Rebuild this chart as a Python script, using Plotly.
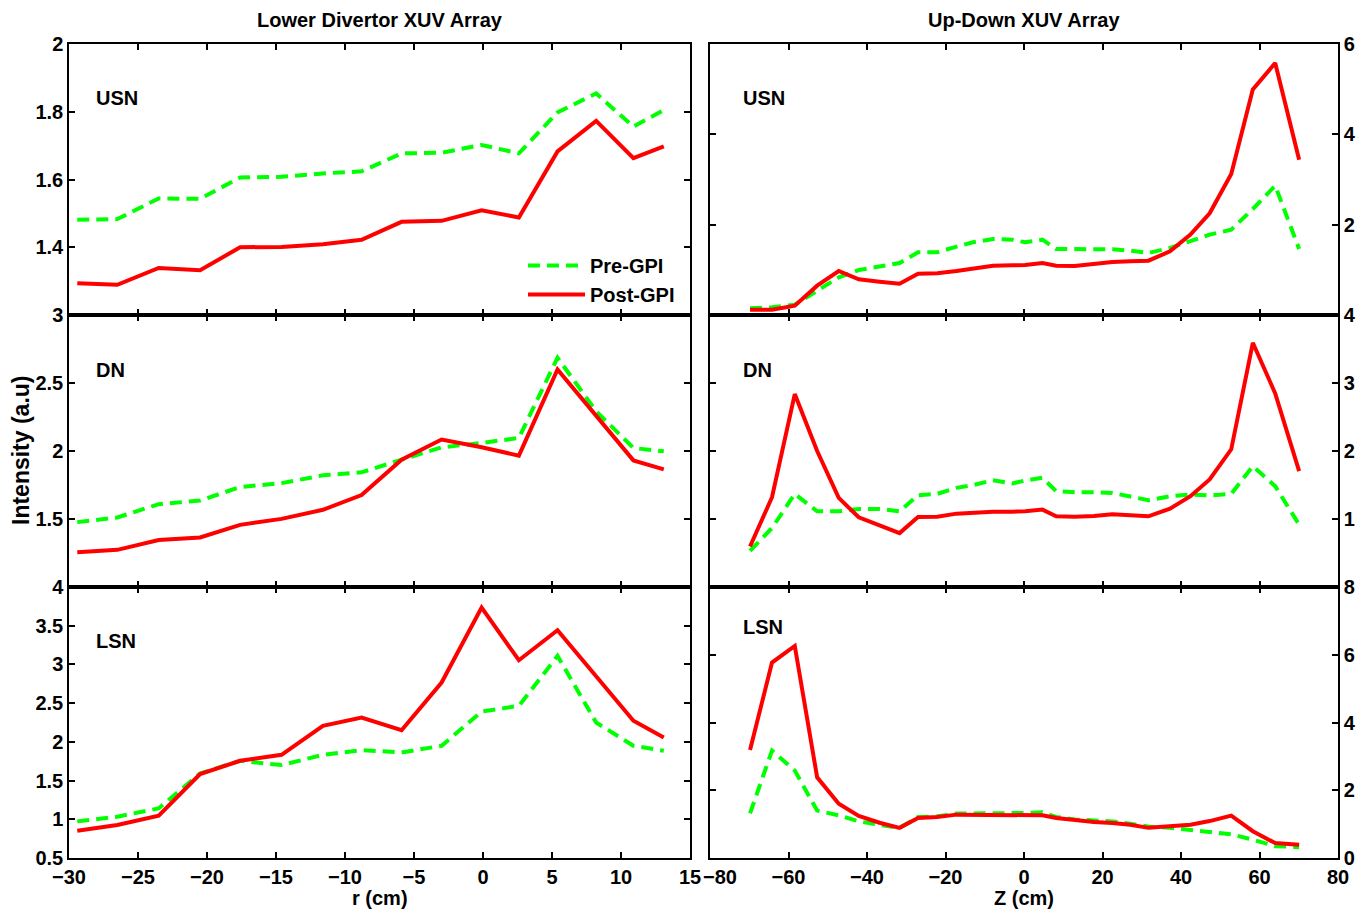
import plotly.graph_objects as go

# ---- Lower divertor XUV array: chord radius (cm) ----
r_lower = [-29.4, -26.5, -23.5, -20.5, -17.6, -14.6, -11.6, -8.8,
           -5.9, -3.0, -0.1, 2.6, 5.4, 8.2, 10.9, 13.1]

lower_usn_pre = [1.481, 1.483, 1.544, 1.543, 1.606, 1.608, 1.618, 1.624,
                 1.677, 1.679, 1.702, 1.677, 1.798, 1.854, 1.756, 1.805]
lower_usn_post = [1.294, 1.289, 1.339, 1.332, 1.400, 1.401, 1.409, 1.422,
                  1.475, 1.478, 1.509, 1.488, 1.683, 1.773, 1.663, 1.698]

lower_dn_pre = [1.477, 1.511, 1.609, 1.636, 1.735, 1.764, 1.821, 1.843,
                1.936, 2.027, 2.059, 2.096, 2.686, 2.292, 2.022, 1.998]
lower_dn_post = [1.256, 1.273, 1.346, 1.364, 1.457, 1.501, 1.568, 1.676,
                 1.936, 2.084, 2.027, 1.966, 2.600, 2.256, 1.931, 1.865]

lower_lsn_pre = [0.973, 1.034, 1.141, 1.592, 1.756, 1.700, 1.833, 1.893,
                 1.863, 1.949, 2.392, 2.465, 3.110, 2.250, 1.949, 1.885]
lower_lsn_post = [0.853, 0.926, 1.046, 1.584, 1.756, 1.833, 2.207, 2.315,
                  2.151, 2.766, 3.733, 3.054, 3.441, 2.839, 2.272, 2.057]

# ---- Up-down XUV array: vertical position Z (cm) ----
z_updown = [-69.8, -64.2, -58.4, -52.7, -47.2, -42.1, -36.8, -31.7, -27.0,
            -22.1, -17.2, -13.0, -7.9, -3.0, 0.3, 4.7, 8.2, 12.9, 17.8,
            22.5, 27.1, 31.7, 37.2, 42.4, 47.3, 52.8, 58.3, 64.0, 70.1]

updown_usn_pre = [0.148, 0.170, 0.229, 0.539, 0.834, 0.996, 1.085, 1.151, 1.387,
                  1.387, 1.513, 1.609, 1.683, 1.668, 1.609, 1.668, 1.461, 1.454,
                  1.454, 1.454, 1.424, 1.373, 1.483, 1.646, 1.779, 1.889, 2.347,
                  2.863, 1.461]
updown_usn_post = [0.118, 0.118, 0.207, 0.649, 0.974, 0.790, 0.738, 0.694, 0.915,
                   0.923, 0.974, 1.018, 1.092, 1.100, 1.107, 1.151, 1.092, 1.085,
                   1.137, 1.173, 1.188, 1.203, 1.410, 1.779, 2.251, 3.122, 4.996,
                   5.579, 3.439]

updown_dn_pre = [0.532, 0.867, 1.369, 1.113, 1.113, 1.148, 1.148, 1.113, 1.350,
                 1.369, 1.458, 1.498, 1.571, 1.522, 1.567, 1.606, 1.409, 1.394,
                 1.394, 1.384, 1.330, 1.276, 1.335, 1.360, 1.345, 1.369, 1.778,
                 1.483, 0.916]
updown_dn_post = [0.596, 1.320, 2.837, 2.000, 1.310, 1.025, 0.906, 0.793, 1.030,
                  1.034, 1.079, 1.094, 1.108, 1.108, 1.113, 1.138, 1.039, 1.034,
                  1.044, 1.069, 1.059, 1.039, 1.153, 1.335, 1.581, 2.025, 3.591,
                  2.847, 1.704]

updown_lsn_pre = [1.32, 3.17, 2.58, 1.40, 1.26, 1.08, 0.98, 0.89, 1.21, 1.23,
                  1.31, 1.31, 1.32, 1.32, 1.33, 1.35, 1.21, 1.14, 1.11, 1.08,
                  1.01, 0.93, 0.89, 0.83, 0.77, 0.70, 0.54, 0.35, 0.32]
updown_lsn_post = [3.19, 5.77, 6.26, 2.38, 1.60, 1.24, 1.04, 0.89, 1.18, 1.21,
                   1.28, 1.28, 1.26, 1.26, 1.26, 1.26, 1.18, 1.11, 1.06, 1.03,
                   0.98, 0.89, 0.94, 0.98, 1.09, 1.25, 0.79, 0.44, 0.39]

series_names = ["Pre-GPI", "Post-GPI"]
config_labels = ["USN", "DN", "LSN"]

# ---- tick values per panel (first label of the lower panels hides the
# bottom label of the panel above, as stacked axes do) ----
left_yticks = [[1.2, 1.4, 1.6, 1.8, 2.0],
               [1.0, 1.5, 2.0, 2.5, 3.0],
               [0.5, 1.0, 1.5, 2.0, 2.5, 3.0, 3.5, 4.0]]
left_ytext = [["", "1.4", "1.6", "1.8", "2"],
              ["", "1.5", "2", "2.5", "3"],
              ["0.5", "1", "1.5", "2", "2.5", "3", "3.5", "4"]]
left_yrange = [[1.2, 2.0], [1.0, 3.0], [0.5, 4.0]]

right_yticks = [[0, 2, 4, 6], [0, 1, 2, 3, 4], [0, 2, 4, 6, 8]]
right_ytext = [["", "2", "4", "6"], ["", "1", "2", "3", "4"],
               ["0", "2", "4", "6", "8"]]
right_yrange = [[0, 6], [0, 4], [0, 8]]

r_ticks = [-30, -25, -20, -15, -10, -5, 0, 5, 10, 15]
z_ticks = [-80, -60, -40, -20, 0, 20, 40, 60, 80]

W, H = 1368, 912
FONT = "Liberation Sans, Arial, Helvetica, sans-serif"
GREEN = "#00FF00"
RED = "#FF0000"
FS = 20

# panel geometry in pixels
left_x0, left_x1 = 69, 690
right_x0, right_x1 = 710, 1338
row_edges = [44, 315, 587, 858]


def xdom(a, b):
    return [a / W, b / W]


def ydom(top, bottom):
    return [1 - bottom / H, 1 - top / H]


def minus(v):
    return f"{v}".replace("-", "\u2212")


fig = go.Figure()

lower_pre = [lower_usn_pre, lower_dn_pre, lower_lsn_pre]
lower_post = [lower_usn_post, lower_dn_post, lower_lsn_post]
updown_pre = [updown_usn_pre, updown_dn_pre, updown_lsn_pre]
updown_post = [updown_usn_post, updown_dn_post, updown_lsn_post]

line_pre = dict(color=GREEN, width=4, dash="12px,7px")
line_post = dict(color=RED, width=4)

bold = dict(family=FONT, size=FS, color="black", weight="bold")

axis_common = dict(
    showgrid=False, zeroline=False, showline=True, linecolor="black",
    linewidth=1.5, ticks="inside", ticklen=6, tickwidth=1.5, tickcolor="black",
    mirror="ticks", automargin=False, tickfont=bold,
)

for row in range(3):
    li = 2 * row + 1   # left panel axis index
    ri = 2 * row + 2   # right panel axis index
    lx = "x" if li == 1 else f"x{li}"
    ly = "y" if li == 1 else f"y{li}"
    rx, ry = f"x{ri}", f"y{ri}"

    fig.add_trace(go.Scatter(x=r_lower, y=lower_pre[row], mode="lines",
                             line=line_pre, name=series_names[0],
                             showlegend=(row == 0), legendgroup="pre",
                             xaxis=lx, yaxis=ly))
    fig.add_trace(go.Scatter(x=r_lower, y=lower_post[row], mode="lines",
                             line=line_post, name=series_names[1],
                             showlegend=(row == 0), legendgroup="post",
                             xaxis=lx, yaxis=ly))
    fig.add_trace(go.Scatter(x=z_updown, y=updown_pre[row], mode="lines",
                             line=line_pre, name=series_names[0],
                             showlegend=False, legendgroup="pre",
                             xaxis=rx, yaxis=ry))
    fig.add_trace(go.Scatter(x=z_updown, y=updown_post[row], mode="lines",
                             line=line_post, name=series_names[1],
                             showlegend=False, legendgroup="post",
                             xaxis=rx, yaxis=ry))

    bottom = row == 2
    ydomain = ydom(row_edges[row], row_edges[row + 1])

    # the first Z label is nudged right so it abuts the last r label
    z_text = [minus(v) for v in z_ticks]
    z_text[0] = ""

    lxkey = "xaxis" if li == 1 else f"xaxis{li}"
    lykey = "yaxis" if li == 1 else f"yaxis{li}"
    fig.layout[lxkey] = dict(
        axis_common, domain=xdom(left_x0, left_x1), range=[-30, 15],
        anchor=ly, tickvals=r_ticks, showticklabels=bottom,
        ticktext=[minus(v) for v in r_ticks],
    )
    fig.layout[lykey] = dict(
        axis_common, domain=ydomain, range=left_yrange[row], anchor=lx,
        tickvals=left_yticks[row], ticktext=left_ytext[row], side="left",
    )
    fig.layout[f"xaxis{ri}"] = dict(
        axis_common, domain=xdom(right_x0, right_x1), range=[-80, 80],
        anchor=ry, tickvals=z_ticks, showticklabels=bottom, ticktext=z_text,
    )
    fig.layout[f"yaxis{ri}"] = dict(
        axis_common, domain=ydomain, range=right_yrange[row], anchor=rx,
        tickvals=right_yticks[row], ticktext=right_ytext[row], side="right",
    )

    # configuration label inside each panel
    fig.add_annotation(text=config_labels[row], xref=f"{lx} domain",
                       yref="paper", x=25 / (left_x1 - left_x0),
                       y=1 - ([98, 370, 641][row]) / H, xanchor="left",
                       yanchor="middle", showarrow=False, font=bold)
    fig.add_annotation(text=config_labels[row], xref=f"{rx} domain",
                       yref="paper", x=31 / (right_x1 - right_x0),
                       y=1 - ([98, 370, 627][row]) / H, xanchor="left",
                       yanchor="middle", showarrow=False, font=bold)

# first Z tick label, set just right of the last r tick label
fig.add_annotation(text=minus(z_ticks[0]), xref="paper", yref="paper",
                   x=701 / W, y=1 - 877 / H, xanchor="left",
                   yanchor="middle", showarrow=False, font=bold)

for text, x, y, angle, size in [
    ("Lower Divertor XUV Array", (left_x0 + left_x1) / 2, 20, 0, FS),
    ("Up-Down XUV Array", (right_x0 + right_x1) / 2, 20, 0, FS),
    ("r (cm)", (left_x0 + left_x1) / 2, 898, 0, FS),
    ("Z (cm)", (right_x0 + right_x1) / 2, 898, 0, FS),
    ("Intensity (a.u)", 21, 450, -90, 23),
]:
    fig.add_annotation(text=text, xref="paper", yref="paper", x=x / W,
                       y=1 - y / H, xanchor="center", yanchor="middle",
                       textangle=angle, showarrow=False,
                       font=dict(bold, size=size))

fig.update_layout(
    width=W, height=H,
    margin=dict(l=0, r=0, t=0, b=0, autoexpand=False),
    paper_bgcolor="white", plot_bgcolor="white",
    showlegend=True,
    legend=dict(x=523 / W, y=1 - 246 / H, xanchor="left", yanchor="top",
                bgcolor="rgba(0,0,0,0)", borderwidth=0, itemwidth=57,
                tracegroupgap=0, font=bold),
)

fig.write_html("out.html")
